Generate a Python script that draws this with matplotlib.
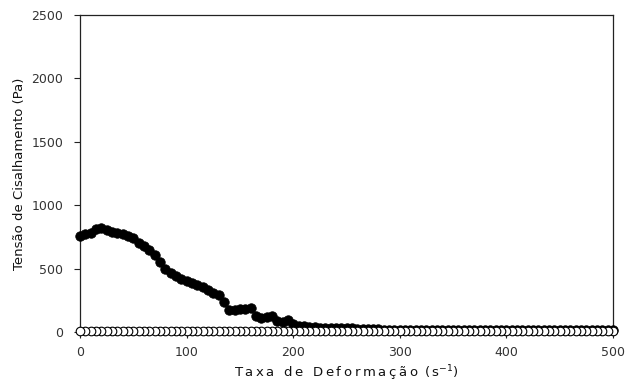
import numpy as np
import matplotlib
matplotlib.use("Agg")
import matplotlib.pyplot as plt

# shear rate (1/s) for the filled series, every 5 s-1
taxa_cheia = list(range(0, 505, 5))
tensao_cheia = [755, 770, 780, 810, 822, 805, 790, 780, 770, 760,
                740, 705, 675, 645, 610, 555, 500, 465, 440, 415,
                400, 385, 370, 355, 335, 310, 290, 235, 170, 175,
                178, 182, 190, 130, 110, 115, 125, 90, 75, 95,
                60, 50, 45, 40, 38, 35, 33, 32, 30, 30,
                32, 28, 27, 25, 24, 22, 20, 19, 18, 18,
                17, 17, 16, 16, 16, 15, 15, 15, 15, 14,
                14, 14, 14, 14, 13, 13, 13, 13, 13, 13,
                12, 12, 12, 12, 12, 12, 12, 12, 12, 12,
                12, 12, 12, 12, 12, 12, 12, 12, 12, 12,
                12]

# open series, basically flat at the bottom
taxa_vazia = list(range(0, 505, 5))
tensao_vazia = [8] * len(taxa_vazia)

xticks = [0, 100, 200, 300, 400, 500]
yticks = [0, 500, 1000, 1500, 2000, 2500]

plt.rcParams['font.family'] = ['DejaVu Sans']

SP = '\u2009'  # x label in the original has wide letter spacing


def espaco(txt):
    return SP.join(txt)


fig = plt.figure(figsize=(6.27, 3.83), dpi=100)
ax = fig.add_axes([0.1276, 0.1332, 0.8501, 0.8276])

ax.plot(taxa_cheia, tensao_cheia, 'o', color='black', markersize=6.8,
        markeredgewidth=0.6, zorder=3, clip_on=False)
# drawn from the right so each left circle sits on top, like the original
ax.plot(taxa_vazia[::-1], tensao_vazia[::-1], 'o', markerfacecolor='white',
        markeredgecolor='black', markersize=6.2, markeredgewidth=0.8,
        zorder=4, clip_on=False)

ax.set_xlim(0, 500)
ax.set_ylim(0, 2500)
ax.set_xticks(xticks)
ax.set_yticks(yticks)

for s in ax.spines.values():
    s.set_color('#222222')
    s.set_linewidth(0.9)

ax.tick_params(axis='both', direction='out', length=4, width=0.8,
               colors='#222222', labelsize=9, labelcolor='#333333')
ax.tick_params(axis='y', pad=8)
ax.tick_params(axis='x', pad=6)

ax.set_xlabel(espaco('Taxa de Deformação') + SP + ' (' + SP + 's$^{-1}$)',
              fontsize=9.5, color='#111111', labelpad=3)
ax.set_ylabel('Tensão de Cisalhamento (Pa)', fontsize=9.5,
              color='#111111', labelpad=4)

fig.savefig('out.png', dpi=100)
